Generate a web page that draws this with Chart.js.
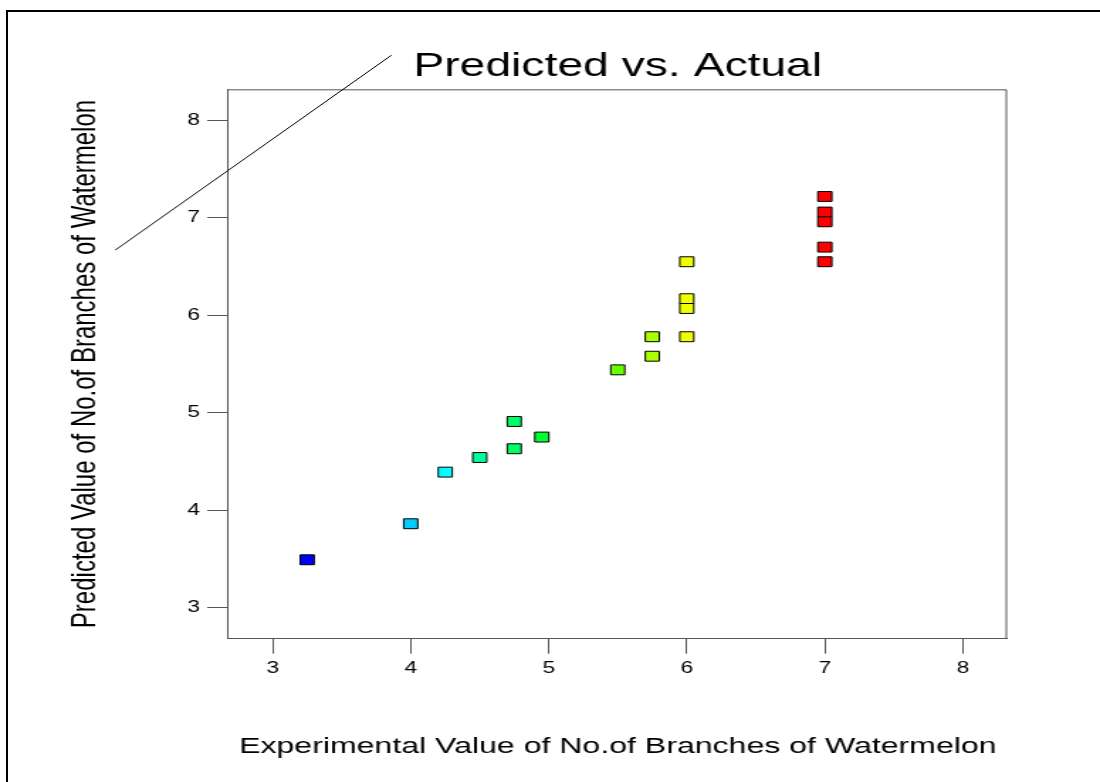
<!DOCTYPE html>
<html>
<head>
<meta charset="utf-8">
<title>Predicted vs. Actual</title>
<script src="https://cdn.jsdelivr.net/npm/chart.js@4.4.0/dist/chart.umd.min.js"></script>
<style>
  body { margin: 0; background: #fff; }
  /* the original picture is stretched sideways, so the chart is drawn narrow and widened */
  #wrap { position: absolute; left: 0; top: 0; width: 775px; height: 782px; transform: scaleX(1.41935); transform-origin: 0 0; }
  #frame { position: absolute; left: 6px; top: 10px; right: 0; bottom: 0; border-left: 2px solid #000; border-top: 2px solid #000; pointer-events: none; }
</style>
</head>
<body>
<div id="wrap"><canvas id="pvaChart" width="775" height="782"></canvas></div>
<div id="frame"></div>
<script>
// experimental (actual) vs predicted number of branches
const actualValues = [3.25, 4, 4.25, 4.5, 4.75, 4.75, 4.95, 5.5, 5.75, 5.75, 6, 6, 6, 6, 7, 7, 7, 7, 7];
const predictedValues = [3.49, 3.86, 4.39, 4.54, 4.91, 4.63, 4.75, 5.44, 5.78, 5.58, 6.55, 6.17, 6.07, 5.78, 7.22, 7.06, 6.96, 6.70, 6.55];
const tickValues = [3, 4, 5, 6, 7, 8];

// the reference line, as it sits in the picture
const refLineX = [1.86, 3.86];
const refLineY = [6.67, 8.67];

// marker colour follows the actual value
const actualColors = {
  '3.25': '#0000ff', '4': '#00ccff', '4.25': '#00ffff', '4.5': '#00ff99',
  '4.75': '#00ff66', '4.95': '#00ff33', '5.5': '#66ff00', '5.75': '#aaff00',
  '6': '#eeff00', '7': '#ff0000'
};

const fontFamily = '"Liberation Sans", Arial, sans-serif';

const plotFrame = {
  id: 'plotFrame',
  beforeDatasetsDraw(chart) {
    const { ctx, chartArea } = chart;
    ctx.save();
    ctx.strokeStyle = '#555';
    ctx.lineWidth = 1;
    ctx.beginPath();
    ctx.moveTo(chartArea.left, chartArea.top + 0.5);
    ctx.lineTo(chartArea.right - 0.5, chartArea.top + 0.5);
    ctx.lineTo(chartArea.right - 0.5, chartArea.bottom);
    ctx.stroke();
    ctx.restore();
  }
};

const setTicks = (scale) => {
  scale.ticks = tickValues.map(v => ({ value: v }));
};

const ctx = document.getElementById('pvaChart').getContext('2d');
new Chart(ctx, {
  type: 'scatter',
  data: {
    datasets: [
      {
        label: 'Predicted',
        data: actualValues.map((x, i) => ({ x: x, y: predictedValues[i] })),
        pointStyle: 'rect',
        pointRadius: 7,
        pointBackgroundColor: actualValues.map(x => actualColors[String(x)]),
        pointBorderColor: '#000',
        pointBorderWidth: 1
      },
      {
        type: 'line',
        label: 'Reference',
        data: refLineX.map((x, i) => ({ x: x, y: refLineY[i] })),
        borderColor: '#000',
        borderWidth: 1,
        pointRadius: 0,
        clip: false
      }
    ]
  },
  plugins: [plotFrame],
  options: {
    responsive: false,
    animation: false,
    layout: { padding: { left: 0, right: 65.5, top: 0, bottom: 0 } },
    plugins: {
      legend: { display: false },
      tooltip: { enabled: false },
      title: {
        display: true,
        fullSize: false,
        text: 'Predicted vs. Actual',
        color: '#000',
        font: { family: fontFamily, size: 32.6, weight: 'normal' },
        padding: { top: 47, bottom: 3.2 }
      }
    },
    scales: {
      x: {
        type: 'linear',
        min: 2.68,
        max: 8.32,
        afterBuildTicks: setTicks,
        grid: { drawOnChartArea: false, drawTicks: true, tickLength: 15, color: '#555' },
        border: { display: true, color: '#555', width: 1 },
        ticks: { color: '#000', padding: 5, font: { family: fontFamily, size: 16 } },
        title: {
          display: true,
          text: 'Experimental Value of No.of Branches of Watermelon',
          color: '#000',
          font: { family: fontFamily, size: 22.6 },
          padding: { top: 50.6, bottom: 21.4 }
        }
      },
      y: {
        type: 'linear',
        min: 2.68,
        max: 8.32,
        afterBuildTicks: setTicks,
        grid: { drawOnChartArea: false, drawTicks: true, tickLength: 15, color: '#555' },
        border: { display: true, color: '#555', width: 1 },
        ticks: { color: '#000', padding: 5, font: { family: fontFamily, size: 16 } },
        title: {
          display: true,
          text: 'Predicted Value of No.of Branches of Watermelon',
          color: '#000',
          font: { family: fontFamily, size: 24 },
          padding: { top: 46, bottom: 52.3 }
        }
      }
    }
  }
});
</script>
</body>
</html>
